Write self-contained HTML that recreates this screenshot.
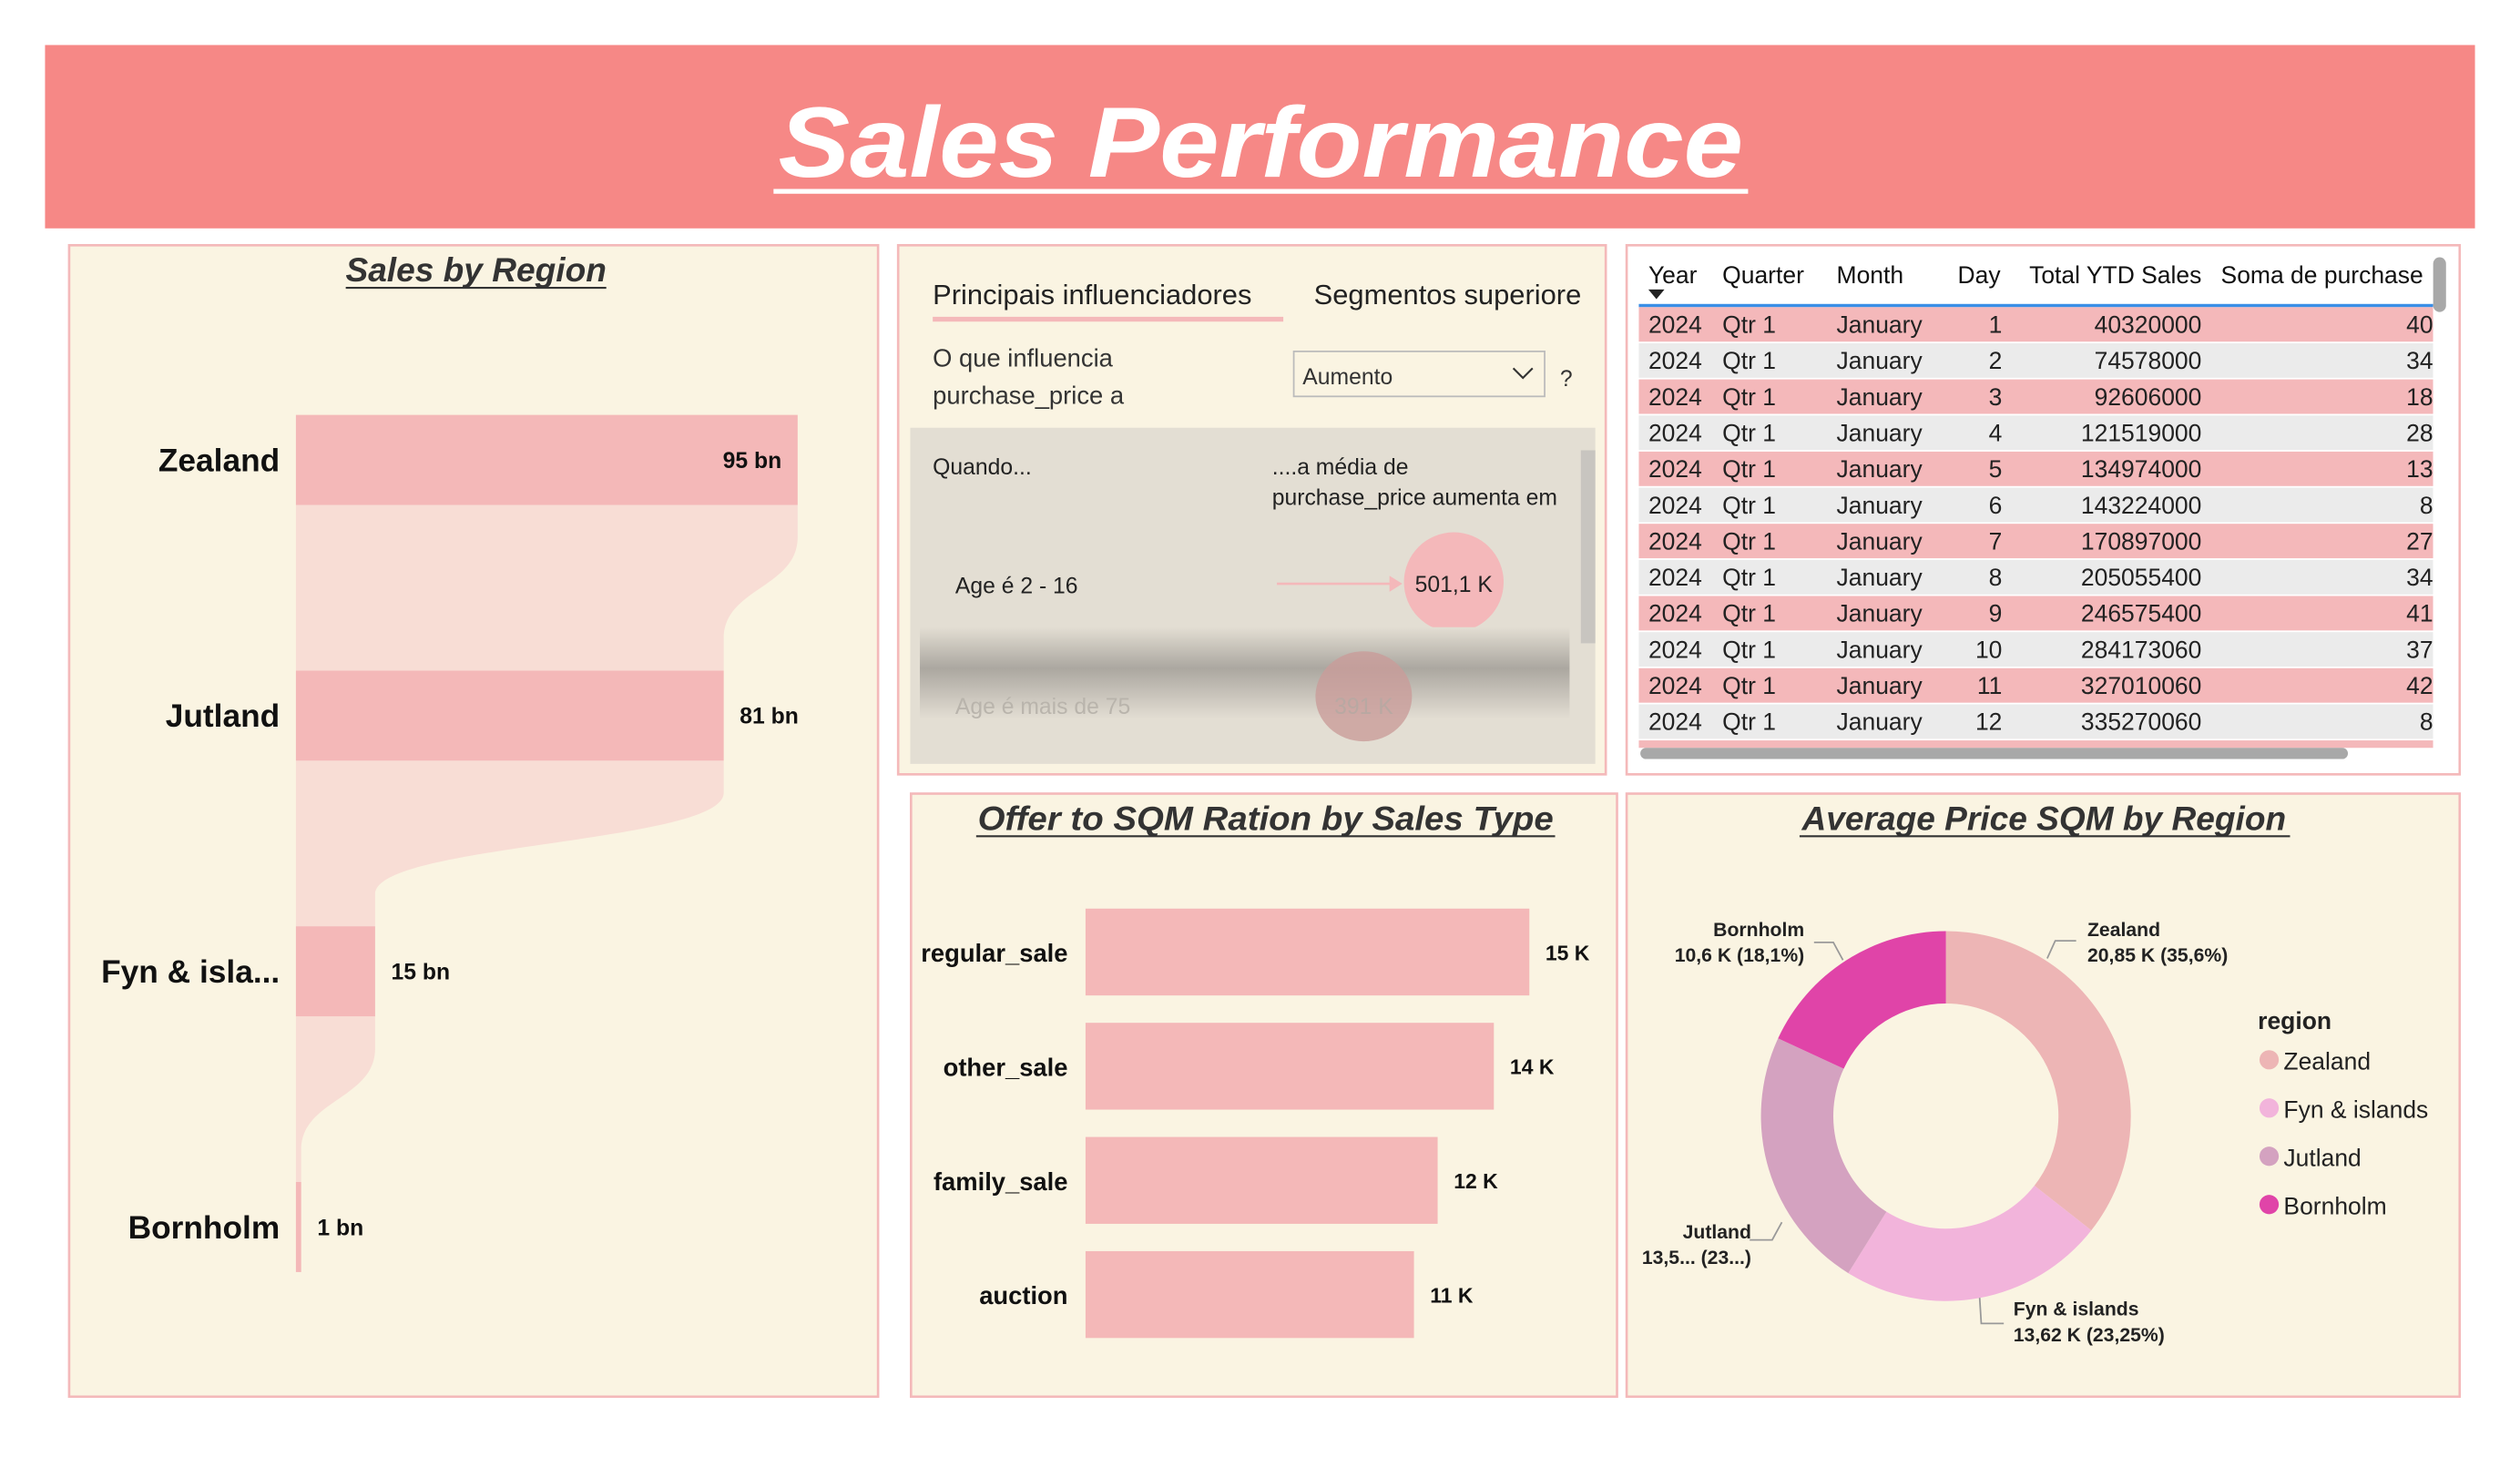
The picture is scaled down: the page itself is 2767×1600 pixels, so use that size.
<!DOCTYPE html>
<html><head><meta charset="utf-8">
<style>
html,body{margin:0;padding:0;background:#fff;width:2767px;height:1600px;overflow:hidden}
svg{display:block}
text{font-family:"Liberation Sans","DejaVu Sans",sans-serif}
</style></head>
<body>
<svg id="root" width="2767" height="1600" viewBox="0 0 1567 906" preserveAspectRatio="none" xmlns="http://www.w3.org/2000/svg">
<rect x="0" y="0" width="1567" height="906" fill="#fff"/>
<g>
<rect x="28" y="28" width="1511" height="114" fill="#F68886"/>
<text x="784" y="110" text-anchor="middle" font-size="62" font-weight="bold" font-style="italic" fill="#fff" textLength="600" lengthAdjust="spacingAndGlyphs">Sales Performance</text>
<line x1="481" y1="119" x2="1087" y2="119" stroke="#fff" stroke-width="3"/>
</g>
<rect x="43" y="152.5" width="503" height="716" fill="#FAF4E2" stroke="#F4B9BA" stroke-width="1.5"/>
<rect x="558.5" y="152.5" width="440" height="329" fill="#FAF4E2" stroke="#F4B9BA" stroke-width="1.5"/>
<rect x="1011.5" y="152.5" width="518" height="329" fill="#fff" stroke="#F4B9BA" stroke-width="1.5"/>
<rect x="566.5" y="493.5" width="439" height="375" fill="#FAF4E2" stroke="#F4B9BA" stroke-width="1.5"/>
<rect x="1011.5" y="493.5" width="518" height="375" fill="#FAF4E2" stroke="#F4B9BA" stroke-width="1.5"/>

<text x="296" y="175" text-anchor="middle" font-size="21" font-weight="bold" font-style="italic" fill="#333">Sales by Region</text>
<line x1="215" y1="179" x2="377" y2="179" stroke="#333" stroke-width="1.2"/>
<g id="funnel"></g>

<text x="787" y="516" text-anchor="middle" font-size="21" font-weight="bold" font-style="italic" fill="#333" textLength="358" lengthAdjust="spacingAndGlyphs">Offer to SQM Ration by Sales Type</text>
<line x1="607" y1="520" x2="967" y2="520" stroke="#333" stroke-width="1.2"/>
<g id="bars"></g>

<text x="1271" y="516" text-anchor="middle" font-size="21" font-weight="bold" font-style="italic" fill="#333">Average Price SQM by Region</text>
<line x1="1119" y1="520" x2="1424" y2="520" stroke="#333" stroke-width="1.2"/>
<g id="donut"></g>

<g font-size="15.5" fill="#222">
<text x="580" y="189" font-size="17.5" fill="#222">Principais influenciadores</text>
<rect x="580" y="197" width="218" height="3" fill="#F4B9BA"/>
<text x="817" y="189" font-size="17.5" fill="#222">Segmentos superiore</text>
<text x="580" y="228" fill="#333">O que influencia</text>
<text x="580" y="251" fill="#333">purchase_price a</text>
<rect x="804.5" y="218.5" width="156" height="28" fill="#FAF4E2" stroke="#bbb"/>
<text x="810" y="239" font-size="14" fill="#333">Aumento</text>
<path d="M941 229 l6 6 l6 -6" fill="none" stroke="#333" stroke-width="1.2"/>
<text x="970" y="240" font-size="14" fill="#333">?</text>
<rect x="566" y="266" width="426" height="209" fill="#E3DED3"/>
<rect x="983" y="280" width="9" height="120" fill="#C8C5C0"/>
<text x="580" y="295" font-size="14" fill="#222">Quando...</text>
<text x="791" y="295" font-size="14" fill="#222">....a média de</text>
<text x="791" y="314" font-size="14" fill="#222">purchase_price aumenta em</text>
<text x="594" y="369" font-size="14" fill="#222">Age é 2 - 16</text>
<line x1="794" y1="363" x2="866" y2="363" stroke="#F4B8BA" stroke-width="1.5"/>
<path d="M864 358 l8 5 l-8 5z" fill="#F4B8BA"/>
<ellipse cx="904" cy="362" rx="31" ry="31" fill="#F4B8BA"/>
<text x="904" y="368" text-anchor="middle" font-size="14" fill="#222">501,1 K</text>
<defs><linearGradient id="fade" x1="0" y1="0" x2="0" y2="1"><stop offset="0" stop-color="#E3DED3"/><stop offset="0.45" stop-color="#ABA7A0"/><stop offset="1" stop-color="#E3DED3"/></linearGradient></defs>
<rect x="572" y="390" width="404" height="57" fill="url(#fade)"/>
<ellipse cx="848" cy="433" rx="30" ry="28" fill="#C99C9A" opacity="0.8"/>
<text x="594" y="444" font-size="14" fill="#B9B4AC">Age é mais de 75</text>
<text x="848" y="444" text-anchor="middle" font-size="14" fill="#B9A8A2">391 K</text>
</g>

<g fill="none" stroke="#999" stroke-width="1">
<polyline points="1273,596 1278,585 1291,585"/>
<polyline points="1146,597 1140,586 1128,586"/>
<polyline points="1108,760 1102,771 1088,771"/>
<polyline points="1231,807 1232,823 1246,823"/>
</g>

<g id="table"></g>
</svg>
<script>
var NS="http://www.w3.org/2000/svg";
function mk(tag,attrs,parent,txt){var e=document.createElementNS(NS,tag);for(var k in attrs)e.setAttribute(k,attrs[k]);if(txt!==undefined)e.textContent=txt;parent.appendChild(e);return e;}

var funnelCategories=["Zealand","Jutland","Fyn & isla...","Bornholm"];
var funnelValues=[95,81,15,1];
var funnelLabels=["95 bn","81 bn","15 bn","1 bn"];
(function(){
  var g=document.getElementById('funnel');
  var x0=184, maxW=312, maxV=95, top0=258, step=159, h=56;
  function xs(v){return x0+v/maxV*maxW;}
  for(var i=0;i<funnelValues.length-1;i++){
    var y1=top0+i*step+h, y2=top0+(i+1)*step, r1=xs(funnelValues[i]), r2=xs(funnelValues[i+1]), m=(y1+y2)/2;
    var p=mk('path',{d:'M'+x0+' '+y1+' L'+r1+' '+y1+' L'+r1+' '+(y1+20)+' C'+r1+' '+m+' '+r2+' '+m+' '+r2+' '+(y2-20)+' L'+r2+' '+y2+' L'+x0+' '+y2+' Z',fill:'#F8DDD5'},g);
    
    
  }
  for(var i=0;i<funnelValues.length;i++){
    var y=top0+i*step, w=Math.max(xs(funnelValues[i])-x0,3);
    var r=mk('rect',{x:x0,y:y,width:w,height:h,fill:'#F4B8B8'},g);
    
    
    var t=mk('text',{x:174,y:y+h/2+7,'text-anchor':'end','font-size':20,'font-weight':'bold',fill:'#111'},g,funnelCategories[i]);
    
    
    var inside=(i===0);
    var lt=mk('text',{x:inside?x0+w-10:x0+w+10,y:y+h/2+5,'text-anchor':inside?'end':'start','font-size':14,'font-weight':'bold',fill:'#111'},g,funnelLabels[i]);
    
    
  }
})();

var barCategories=["regular_sale","other_sale","family_sale","auction"];
var barValues=[15,13.8,11.9,11.1];
var barLabels=["15 K","14 K","12 K","11 K"];
(function(){
  var g=document.getElementById('bars');
  var x0=675, maxW=276, maxV=15, top0=565, step=71, h=54;
  function xs(v){return v/maxV*maxW;}
  for(var i=0;i<barValues.length;i++){
    var y=top0+i*step, w=xs(barValues[i]);
    var r=mk('rect',{x:x0,y:y,width:w,height:h,fill:'#F4B8B8'},g);
    
    
    var t=mk('text',{x:664,y:y+h/2+6,'text-anchor':'end','font-size':15.5,'font-weight':'bold',fill:'#111'},g,barCategories[i]);
    
    
    var v=mk('text',{x:x0+w+10,y:y+h/2+5,'font-size':13,'font-weight':'bold',fill:'#111'},g,barLabels[i]);
    
    
  }
})();

var donutCategories=["Zealand","Fyn & islands","Jutland","Bornholm"];
var donutValues=[20.85,13.62,13.5,10.6];
var donutLabels=["20,85 K (35,6%)","13,62 K (23,25%)","13,5... (23...)","10,6 K (18,1%)"];
var donutColors=["#EDB5B5","#F2B4DB","#D4A2C0","#E044A8"];
(function(){
  var g=document.getElementById('donut');
  var cx=1210, cy=694, R=115, r=70;
  var tot=donutValues.reduce(function(a,b){return a+b;},0);
  var a=-Math.PI/2;
  function pt(rad,ang){return [cx+rad*Math.cos(ang),cy+rad*Math.sin(ang)];}
  var labelPos=[[1298,582,'start'],[1252,818,'start'],[1089,770,'end'],[1122,582,'end']];
  for(var i=0;i<donutValues.length;i++){
    var a2=a+donutValues[i]/tot*2*Math.PI, lg=(a2-a)>Math.PI?1:0;
    var p1=pt(R,a),p2=pt(R,a2),p3=pt(r,a2),p4=pt(r,a);
    var p=mk('path',{d:'M'+p1+' A'+R+' '+R+' 0 '+lg+' 1 '+p2+' L'+p3+' A'+r+' '+r+' 0 '+lg+' 0 '+p4+' Z',fill:donutColors[i]},g);
    
    
    var lp=labelPos[i];
    var t1=mk('text',{x:lp[0],y:lp[1],'text-anchor':lp[2],'font-size':12,'font-weight':'bold',fill:'#222'},g,donutCategories[i]);
    
    
    var t2=mk('text',{x:lp[0],y:lp[1]+16,'text-anchor':lp[2],'font-size':12,'font-weight':'bold',fill:'#222'},g,donutLabels[i]);
    
    
    a=a2;
  }
  var lt=mk('text',{x:1404,y:640,'font-size':15,'font-weight':'bold',fill:'#222'},g,'region');
  
  
  for(var i=0;i<donutCategories.length;i++){
    var y=659+i*30;
    var c=mk('circle',{cx:1411,cy:y,r:6,fill:donutColors[i]},g);
    
    
    var t=mk('text',{x:1420,y:y+6,'font-size':15,fill:'#222'},g,donutCategories[i]);
    
    
  }
})();

var tableDays=[1,2,3,4,5,6,7,8,9,10,11,12];
var tableYTD=["40320000","74578000","92606000","121519000","134974000","143224000","170897000","205055400","246575400","284173060","327010060","335270060"];
var tablePurchase=["40","34","18","28","13","8","27","34","41","37","42","8"];
(function(){
  var g=document.getElementById('table');
  var hdr=[["Year",1025,'start'],["Quarter",1071,'start'],["Month",1142,'start'],["Day",1244,'end'],["Total YTD Sales",1369,'end'],["Soma de purchase",1381,'start']];
  var cp=mk('clipPath',{id:'tclip'},g);mk('rect',{x:1019,y:155,width:494,height:310},cp);
  var tg=mk('g',{'clip-path':'url(#tclip)'},g);
  hdr.forEach(function(h){var t=mk('text',{x:h[1],y:176,'text-anchor':h[2],'font-size':15,fill:'#111'},tg,h[0]);
    
    });
  mk('path',{d:'M1025 180 l10 0 l-5 6z',fill:'#222'},tg);
  mk('rect',{x:1019,y:189,width:494,height:2,fill:'#3A8EE6'},tg);
  var rh=22.45, y0=191;
  for(var i=0;i<tableDays.length+1;i++){
    var y=y0+i*rh;
    var row=mk('rect',{x:1019,y:y,width:494,height:rh-1,fill:i%2===0?'#F4B8BA':'#EBEBEB'},tg);
    
    
    if(i>=tableDays.length)continue;
    var ty=y+16, fs=15;
    [["2024",1025,'start'],["Qtr 1",1071,'start'],["January",1142,'start'],[String(tableDays[i]),1245,'end'],[tableYTD[i],1369,'end'],[tablePurchase[i],1513,'end']].forEach(function(c){
      var t=mk('text',{x:c[1],y:ty,'text-anchor':c[2],'font-size':fs,fill:'#222'},tg,c[0]);
      
      
    });
  }
  var sh=mk('rect',{x:1020,y:465,width:440,height:7,rx:3.5,fill:'#A8A8A8'},g);
  
  
  var sv=mk('rect',{x:1513,y:160,width:8,height:34,rx:4,fill:'#A8A8A8'},g);
  
  
})();
</script>
</body></html>
